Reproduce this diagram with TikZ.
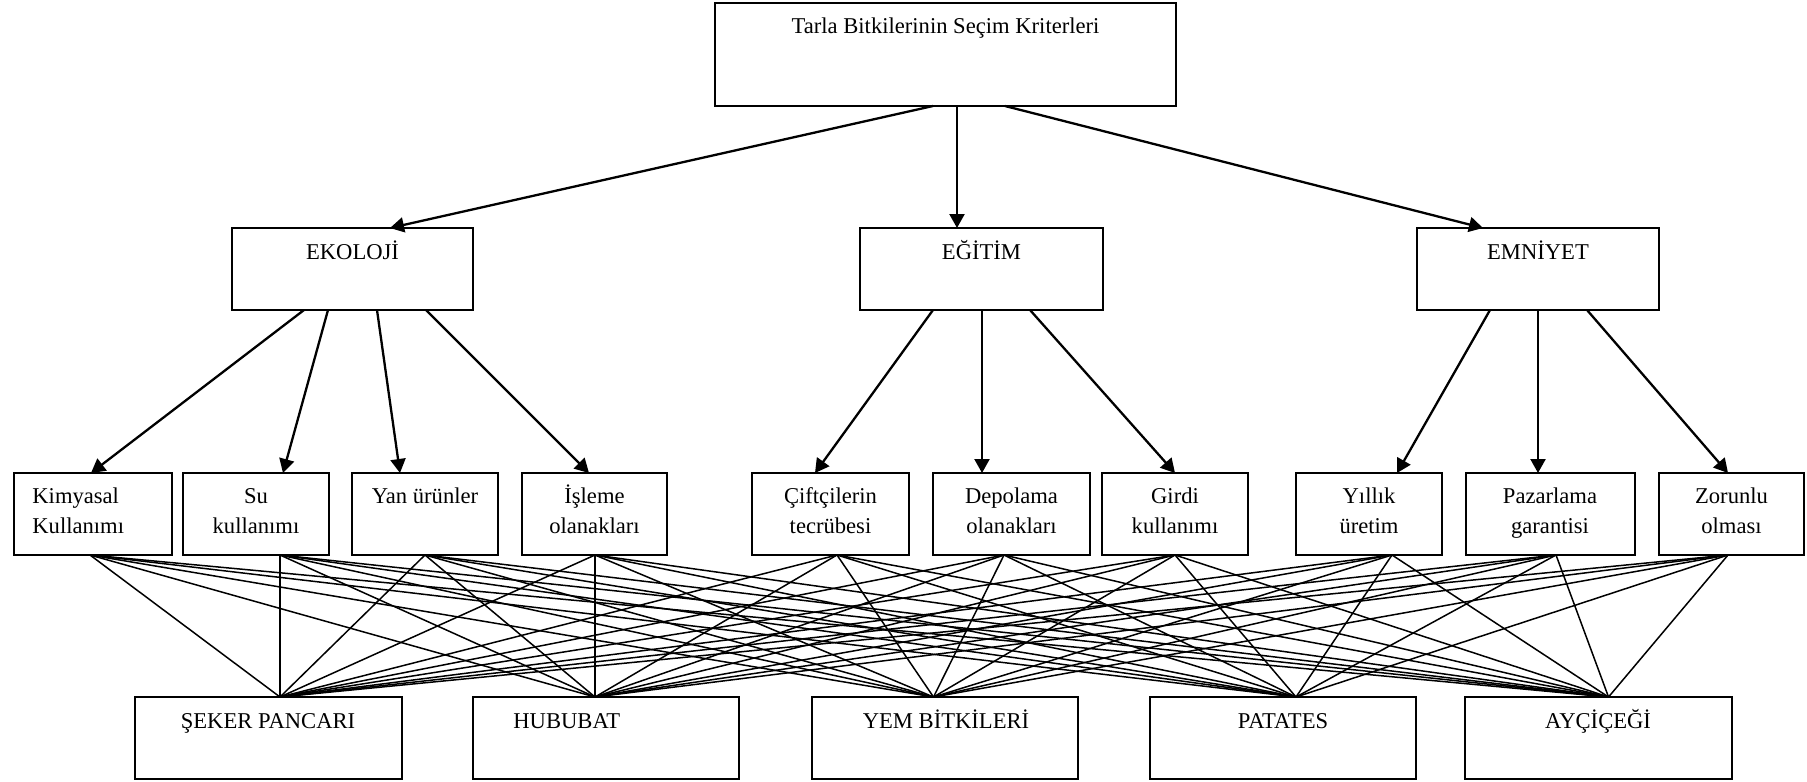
\documentclass[tikz,border=0pt]{standalone}
\usepackage{fontspec}
\setmainfont{Liberation Serif}
\usetikzlibrary{arrows.meta,fit}
\begin{document}
\begin{tikzpicture}[x=0.5pt,y=-0.5pt,
  box/.style={draw,line width=0.9pt,inner sep=0pt,fit={#1}},
  lbl/.style={anchor=base,font=\fontsize{11.3}{15}\selectfont,inner sep=0pt,align=center},
  arr/.style={line width=1.15pt,-{Triangle[length=7pt,width=7.5pt]}},
  web/.style={line width=0.75pt}]
\useasboundingbox (0,0) rectangle (1807,781);

% top
\node[box={(715,3)(1176,106)}] (top) {};
\node[lbl] (topt) at (945.5,34) {Tarla Bitkilerinin Seçim Kriterleri};

% level 2
\node[box={(232,228)(473,310)}] (eko) {};
\node[lbl] (ekot) at (352.5,259) {EKOLOJİ};
\node[box={(860,228)(1103,310)}] (egi) {};
\node[lbl] (egit) at (981.5,259) {EĞİTİM};
\node[box={(1417,228)(1659,310)}] (emn) {};
\node[lbl] (emnt) at (1538,259) {EMNİYET};

% level 3 (two-line labels: base = last line's baseline)
\node[box={(14,473)(172,555)}] (kim) {};
\node[lbl,anchor=base west,align=left] (kimt) at (32,533) {Kimyasal\\Kullanımı};
\node[box={(183,473)(329,555)}] (su) {};
\node[lbl] (sut) at (256,533) {Su\\kullanımı};
\node[box={(352,473)(498,555)}] (yan) {};
\node[lbl] (yant) at (425,503) {Yan ürünler};
\node[box={(522,473)(667,555)}] (isl) {};
\node[lbl] (islt) at (594.5,533) {İşleme\\olanakları};
\node[box={(752,473)(909,555)}] (cif) {};
\node[lbl] (cift) at (830.5,533) {Çiftçilerin\\tecrübesi};
\node[box={(933,473)(1090,555)}] (dep) {};
\node[lbl] (dept) at (1011.5,533) {Depolama\\olanakları};
\node[box={(1102,473)(1248,555)}] (gir) {};
\node[lbl] (girt) at (1175,533) {Girdi\\kullanımı};
\node[box={(1296,473)(1442,555)}] (yil) {};
\node[lbl] (yilt) at (1369,533) {Yıllık\\üretim};
\node[box={(1466,473)(1635,555)}] (paz) {};
\node[lbl] (pazt) at (1550,533) {Pazarlama\\garantisi};
\node[box={(1659,473)(1804,555)}] (zor) {};
\node[lbl] (zort) at (1731.5,533) {Zorunlu\\olması};

% level 4
\node[box={(135,697)(402,779)}] (sek) {};
\node[lbl] (sekt) at (268,728) {ŞEKER PANCARI};
\node[box={(473,697)(739,779)}] (hub) {};
\node[lbl,anchor=base west] (hubt) at (513,728) {HUBUBAT};
\node[box={(812,697)(1078,779)}] (yem) {};
\node[lbl] (yemt) at (946,728) {YEM BİTKİLERİ};
\node[box={(1150,697)(1416,779)}] (pat) {};
\node[lbl] (patt) at (1283,728) {PATATES};
\node[box={(1465,697)(1732,779)}] (ayc) {};
\node[lbl] (ayct) at (1598,728) {AYÇİÇEĞİ};

% arrow attach points
\coordinate (top-1) at (933,106);
\coordinate (top-2) at (957,106);
\coordinate (top-3) at (1005,106);
\coordinate (eko-in) at (390,228);
\coordinate (egi-in) at (957,228);
\coordinate (emn-in) at (1483,228);
\coordinate (eko-1) at (304,310);
\coordinate (eko-2) at (328,310);
\coordinate (eko-3) at (377,310);
\coordinate (eko-4) at (426,310);
\coordinate (egi-1) at (933,310);
\coordinate (egi-2) at (982,310);
\coordinate (egi-3) at (1030,310);
\coordinate (emn-1) at (1490,310);
\coordinate (emn-2) at (1538,310);
\coordinate (emn-3) at (1587,310);
\coordinate (kim-in) at (91,473);
\coordinate (su-in) at (283,473);
\coordinate (yan-in) at (400,473);
\coordinate (isl-in) at (589,473);
\coordinate (cif-in) at (815,473);
\coordinate (dep-in) at (982,473);
\coordinate (gir-in) at (1175,473);
\coordinate (yil-in) at (1397,473);
\coordinate (paz-in) at (1538,473);
\coordinate (zor-in) at (1728,473);

\draw[arr] (top-1) -- (eko-in);
\draw[arr] (top-2) -- (egi-in);
\draw[arr] (top-3) -- (emn-in);
\draw[arr] (eko-1) -- (kim-in);
\draw[arr] (eko-2) -- (su-in);
\draw[arr] (eko-3) -- (yan-in);
\draw[arr] (eko-4) -- (isl-in);
\draw[arr] (egi-1) -- (cif-in);
\draw[arr] (egi-2) -- (dep-in);
\draw[arr] (egi-3) -- (gir-in);
\draw[arr] (emn-1) -- (yil-in);
\draw[arr] (emn-2) -- (paz-in);
\draw[arr] (emn-3) -- (zor-in);

% web points
\coordinate (kim-out) at (90,555);
\coordinate (su-out) at (280,555);
\coordinate (yan-out) at (425,555);
\coordinate (isl-out) at (595,555);
\coordinate (cif-out) at (837,555);
\coordinate (dep-out) at (1004,555);
\coordinate (gir-out) at (1175,555);
\coordinate (yil-out) at (1392,555);
\coordinate (paz-out) at (1556,555);
\coordinate (zor-out) at (1728,555);
\coordinate (sek-in) at (280,697);
\coordinate (hub-in) at (595,697);
\coordinate (yem-in) at (933.5,697);
\coordinate (pat-in) at (1296,697);
\coordinate (ayc-in) at (1608.5,697);

\foreach \a in {kim,su,yan,isl,cif,dep,gir,yil,paz,zor}
  \foreach \b in {sek,hub,yem,pat,ayc}
    \draw[web] (\a-out) -- (\b-in);
\end{tikzpicture}
\end{document}
